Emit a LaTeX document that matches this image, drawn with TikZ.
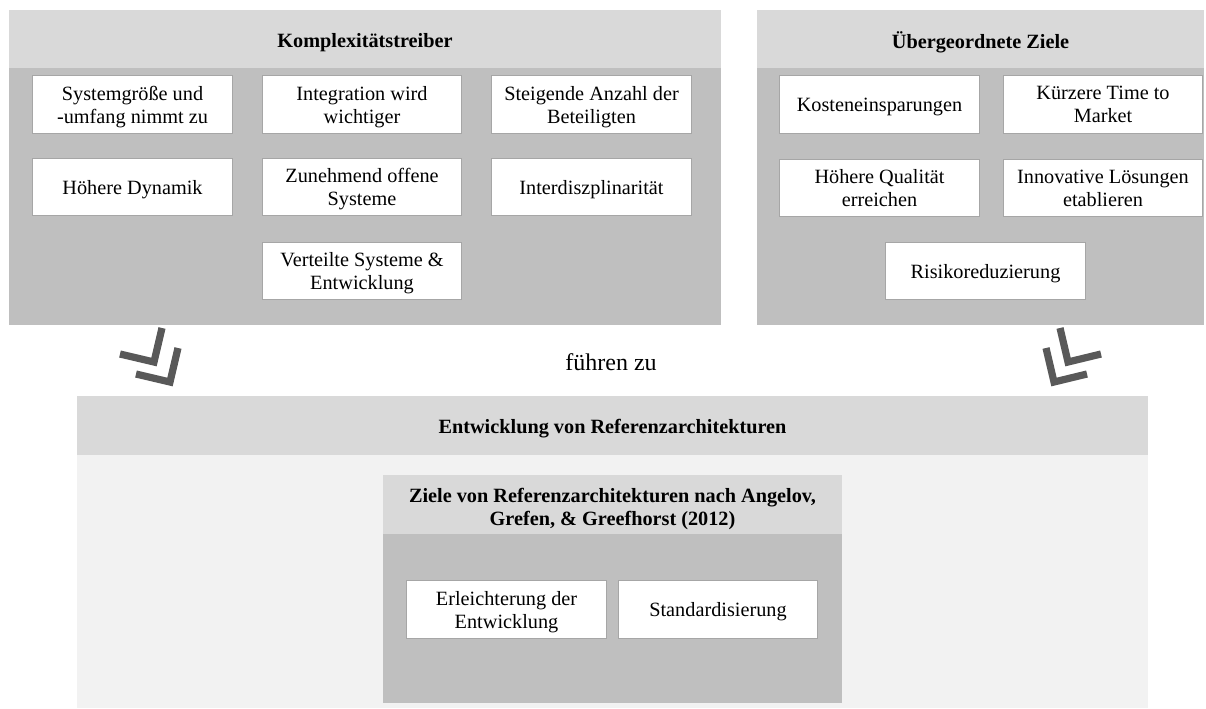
\documentclass[tikz,border=0pt]{standalone}
\usepackage{fontspec}
\setmainfont{Liberation Serif}
\usepackage{tikz}

\definecolor{kopf}{HTML}{D9D9D9}
\definecolor{rumpf}{HTML}{BFBFBF}
\definecolor{hell}{HTML}{F2F2F2}
\definecolor{rand}{HTML}{A6A6A6}
\definecolor{pfeil}{HTML}{595959}

\begin{document}
\begin{tikzpicture}[line cap=butt,line join=miter,x=0.75pt,y=-0.75pt,
  box/.style={draw=rand,line width=0.6pt,fill=white,minimum width=149.5pt,minimum height=43pt,align=center,inner sep=0pt,text depth=-0.8pt,font=\fontsize{15.2}{17.3}\selectfont},
  kopftext/.style={align=center,text depth=0pt,font=\fontsize{15.2}{17.3}\selectfont\bfseries},
  chev/.style={draw=pfeil,line width=5.4pt}]
\useasboundingbox (0,0) rectangle (1206,708);
% Komplexitaetstreiber
\fill[kopf] (9,10) rectangle (721,68);
\fill[rumpf] (9,68) rectangle (721,325);
\node[kopftext] (kt) at (365,40) {Komplexitätstreiber};
\node[box] (k1) at (132.5,104.5) {Systemgröße und\\-umfang nimmt zu};
\node[box] (k2) at (362,104.5) {Integration wird\\wichtiger};
\node[box] (k3) at (591.5,104.5) {Steigende Anzahl der\\Beteiligten};
\node[box] (k4) at (132.5,187) {Höhere Dynamik};
\node[box] (k5) at (362,187) {Zunehmend offene\\Systeme};
\node[box] (k6) at (591.5,187) {Interdiszplinarität};
\node[box] (k7) at (362,271) {Verteilte Systeme \&\\Entwicklung};
% Uebergeordnete Ziele
\fill[kopf] (757,10) rectangle (1204,68);
\fill[rumpf] (757,68) rectangle (1204,325);
\node[kopftext] (zt) at (980.5,40) {Übergeordnete Ziele};
\node[box] (z1) at (879.5,104.5) {Kosteneinsparungen};
\node[box] (z2) at (1103,104.5) {Kürzere Time to\\Market};
\node[box] (z3) at (879.5,188) {Höhere Qualität\\erreichen};
\node[box] (z4) at (1103,188) {Innovative Lösungen\\etablieren};
\node[box] (z5) at (985.5,271) {Risikoreduzierung};
% Pfeile
\draw[chev] (120,354) -- (154,362) -- (162,328);
\draw[chev] (136,374) -- (170,382) -- (178,348);
\draw[chev] (1101,354) -- (1068,362) -- (1060,328);
\draw[chev] (1087,374) -- (1054,382) -- (1046,348);
\node[font=\fontsize{18}{21}\selectfont] (fz) at (611,362) {führen zu};
% Referenzarchitekturen
\fill[kopf] (77,396) rectangle (1148,455);
\fill[hell] (77,455) rectangle (1148,708);
\node[kopftext] (et) at (612.5,426.5) {Entwicklung von Referenzarchitekturen};
\fill[kopf] (383,475) rectangle (842,534);
\fill[rumpf] (383,534) rectangle (842,703);
\node[kopftext] (at) at (612.5,506.5) {Ziele von Referenzarchitekturen nach Angelov,\\Grefen, \& Greefhorst (2012)};
\node[box] (a1) at (506.5,609.5) {Erleichterung der\\Entwicklung};
\node[box] (a2) at (718,609.5) {Standardisierung};
\end{tikzpicture}
\end{document}
